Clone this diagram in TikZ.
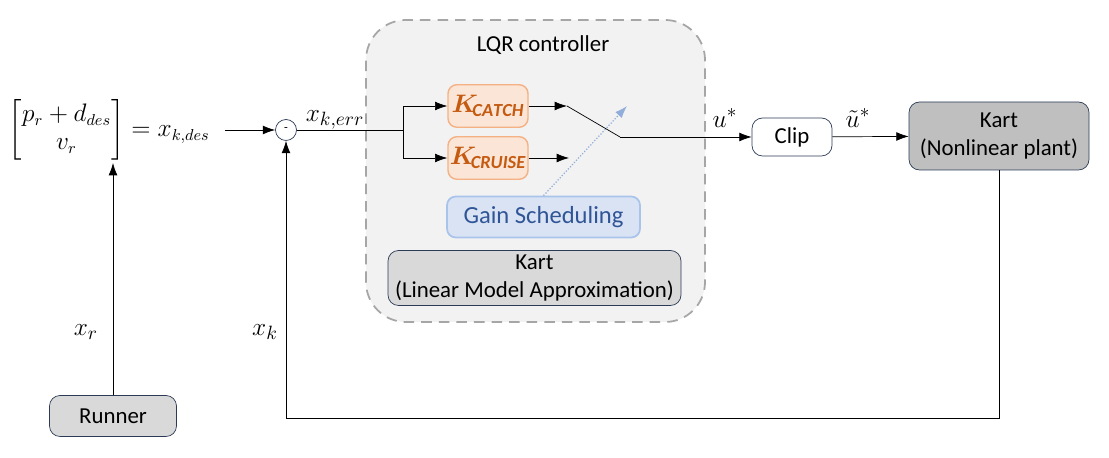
\documentclass[tikz,border=0pt]{standalone}
\usepackage{amsmath}
\usepackage{fontspec}
\setmainfont{Carlito}
\usetikzlibrary{arrows.meta}
\definecolor{navy}{HTML}{2B3A55}
\definecolor{boxgray}{HTML}{D9D9D9}
\definecolor{plantgray}{HTML}{BFBFBF}
\definecolor{lqrfill}{HTML}{F2F2F2}
\definecolor{lqrline}{HTML}{A6A6A6}
\definecolor{kfill}{HTML}{FBE5D6}
\definecolor{kline}{HTML}{F4B183}
\definecolor{ktext}{HTML}{C55A11}
\definecolor{gfill}{HTML}{DAE3F3}
\definecolor{gline}{HTML}{A9C4EB}
\definecolor{gtext}{HTML}{2F5597}
\begin{document}
\begin{tikzpicture}[
    >={Latex[length=7pt,width=5pt]},
    blk/.style={draw=navy,rounded corners=6pt,align=center,font=\fontsize{13}{16}\selectfont,inner sep=0pt},
    gainbox/.style={draw=kline,fill=kfill,rounded corners=5pt,line width=0.8pt,minimum width=1.6cm,minimum height=0.85cm,inner sep=1pt,font=\fontsize{15}{18}\selectfont},
    lbl/.style={font=\fontsize{15}{18}\selectfont}
  ]
  \useasboundingbox (0,0) rectangle (22.18,9.16);
  % controller frame
  \draw[lqrline,fill=lqrfill,dashed,line width=1pt,dash pattern=on 6pt off 4pt,rounded corners=0.8cm] (7.32,2.72) rectangle (14.10,8.76);
  \node[font=\fontsize{13}{16}\selectfont] (lqr) at (10.86,8.26) {LQR controller};
  \node[gainbox] (catch) at (9.76,7.04) {$\boldsymbol{\color{ktext}K_{\!\mathit{CATCH}}}$};
  \node[gainbox] (cruise) at (9.76,6.00) {$\boldsymbol{\color{ktext}K_{\!\mathit{CRUISE}}}$};
  \node[draw=gline,fill=gfill,rounded corners=5pt,line width=1pt,minimum width=3.86cm,minimum height=0.82cm,text=gtext,font=\fontsize{14}{16}\selectfont] (gain) at (10.87,4.82) {Gain Scheduling};
  \node[blk,fill=boxgray,minimum width=5.86cm,minimum height=1.1cm] (lin) at (10.69,3.60) {Kart\\(Linear Model Approximation)};
  % loop blocks
  \node[font=\fontsize{13.5}{16}\selectfont,anchor=east,inner sep=0pt] (ref) at (4.20,6.56) {$\begin{bmatrix} p_r + d_{des}\\ v_r\end{bmatrix} = x_{k,des}$};
  \node[draw=navy,circle,minimum size=0.42cm,inner sep=0pt,font=\scriptsize] (sum) at (5.72,6.56) {-};
  \node[blk,fill=white,minimum width=1.6cm,minimum height=0.76cm] (clip) at (15.84,6.42) {Clip};
  \node[blk,fill=plantgray,minimum width=3.6cm,minimum height=1.36cm] (plant) at (19.98,6.44) {Kart\\(Nonlinear plant)};
  \node[blk,fill=boxgray,minimum width=2.54cm,minimum height=0.82cm] (runner) at (2.26,0.84) {Runner};
  \coordinate (split) at (8.06,6.56);
  \coordinate (catchend) at (11.34,7.04);
  \coordinate (cruiseend) at (11.38,6.00);
  \coordinate (pivot) at (12.40,6.42);
  \coordinate (tip) at (12.54,7.04);
  \coordinate (refin) at (4.50,6.56);
  \coordinate (refbot) at (2.26,5.90);
  \coordinate (back) at (19.98,0.80);
  % signals
  \draw[->] (refin) -- (sum);
  \draw (sum) -- (split);
  \draw[->] (split) |- (catch);
  \draw[->] (split) |- (cruise);
  \draw[->] (catch) -- (catchend);
  \draw[->] (cruise) -- (cruiseend);
  \draw (catchend) -- (pivot);
  \draw[->] (pivot) -- (clip);
  \draw[->] (clip) -- (plant);
  \draw[->,gline!80!gtext,densely dotted,line width=0.7pt] (gain.north) -- (tip);
  \draw[->] (runner) -- (refbot);
  \draw[->] (plant.south) -- (back) -| (sum);
  % labels
  \node[lbl] (xerr) at (6.70,6.76) {$x_{k,err}$};
  \node[lbl] (ustar) at (14.50,6.80) {$u^*$};
  \node[lbl] (utilde) at (17.16,6.80) {$\tilde{u}^*$};
  \node[lbl] (xk) at (5.30,2.52) {$x_k$};
  \node[lbl] (xr) at (1.72,2.52) {$x_r$};
\end{tikzpicture}
\end{document}
